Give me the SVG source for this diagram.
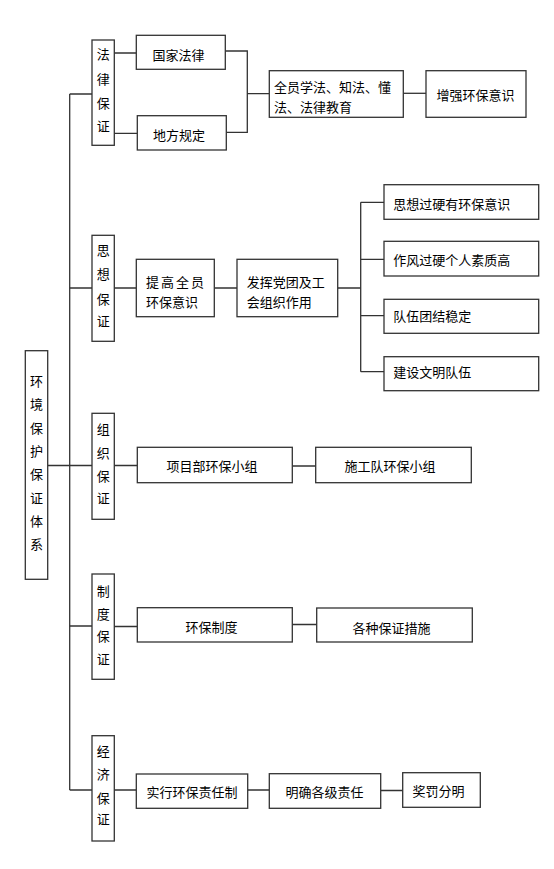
<svg xmlns="http://www.w3.org/2000/svg" width="554" height="869" viewBox="0 0 554 869">
<style>
rect{fill:#fff;stroke:#333;stroke-width:1.3}
.c path{fill:none;stroke:#333;stroke-width:1.3}
text{font-family:"Noto Sans CJK SC","Noto Sans",sans-serif;font-size:13px;fill:#000;dominant-baseline:central}
.m{text-anchor:middle}
</style>
<rect x="0" y="0" width="554" height="869" style="stroke:none"/>
<g class="c" id="connectors">
<path d="M69.7 94V790"/>
<path d="M69.7 94H92M69.7 288H92M47.7 465.5H92M69.7 626H92M69.7 790H92"/>
<path d="M114 53H136.3M114 133.3H137.3"/>
<path d="M225.3 51H247.3V132.3H226.3M247.3 93.7H269.3"/>
<path d="M403.3 93.3H426"/>
<path d="M114 288H136.3M214.3 288H237M337.7 288H360.7"/>
<path d="M360.7 202.3V371.7M360.7 202.3H384M360.7 259.3H384M360.7 315.7H384M360.7 371.7H384"/>
<path d="M114 465.5H137.3M292.3 466H315.7"/>
<path d="M114 626.5H137.3M292.3 624.5H316.7"/>
<path d="M114 790H136.3M247.7 790H269.3M380.7 790.5H402.7"/>
</g>
<g id="root"><rect x="25.3" y="350.7" width="22.4" height="228.6"/>
<text class="m" x="36.5" y="380">环</text><text class="m" x="36.5" y="403">境</text><text class="m" x="36.5" y="427">保</text><text class="m" x="36.5" y="450">护</text><text class="m" x="36.5" y="473">保</text><text class="m" x="36.5" y="497">证</text><text class="m" x="36.5" y="520">体</text><text class="m" x="36.5" y="543">系</text></g>
<g id="falv"><rect x="92" y="40" width="22.3" height="105.3"/>
<text class="m" x="103.2" y="53">法</text><text class="m" x="103.2" y="78">律</text><text class="m" x="103.2" y="102">保</text><text class="m" x="103.2" y="125">证</text></g>
<g id="guojia"><rect x="136.3" y="35.3" width="89" height="34"/><text class="m" x="178.5" y="54">国家法律</text></g>
<g id="difang"><rect x="137.3" y="115.7" width="89" height="34.3"/><text class="m" x="179" y="134.5">地方规定</text></g>
<g id="quanyuan"><rect x="269.3" y="70.7" width="134" height="46.6"/><text x="274" y="86.5">全员学法、知法、懂</text><text x="274" y="106.5">法、法律教育</text></g>
<g id="zengqiang"><rect x="426" y="70.7" width="100" height="46.6"/><text class="m" x="475.5" y="94">增强环保意识</text></g>
<g id="sixiang"><rect x="92" y="235.3" width="22.3" height="106"/>
<text class="m" x="103.2" y="249">思</text><text class="m" x="103.2" y="273">想</text><text class="m" x="103.2" y="298">保</text><text class="m" x="103.2" y="320">证</text></g>
<g id="tigao"><rect x="136.3" y="259.3" width="78" height="57.4"/><text x="146" y="281.7" style="letter-spacing:2px">提高全员</text><text x="146" y="301">环保意识</text></g>
<g id="fahui"><rect x="237" y="259.3" width="100.7" height="57.4"/><text x="246.7" y="281.7">发挥党团及工</text><text x="246.7" y="301.5">会组织作用</text></g>
<g id="s1"><rect x="384" y="184.7" width="154.7" height="34.6"/><text x="393.3" y="203">思想过硬有环保意识</text></g>
<g id="s2"><rect x="384" y="241.3" width="154.7" height="34.7"/><text x="393.3" y="259.3">作风过硬个人素质高</text></g>
<g id="s3"><rect x="384" y="299.3" width="154.7" height="34"/><text x="393.3" y="315.7">队伍团结稳定</text></g>
<g id="s4"><rect x="384" y="356.7" width="154.7" height="34"/><text x="393.3" y="371.7">建设文明队伍</text></g>
<g id="zuzhi"><rect x="92" y="413.3" width="22.3" height="106"/>
<text class="m" x="103.2" y="428">组</text><text class="m" x="103.2" y="452">织</text><text class="m" x="103.2" y="475">保</text><text class="m" x="103.2" y="497">证</text></g>
<g id="xiangmu"><rect x="137.3" y="447.3" width="155" height="35.4"/><text class="m" x="212" y="465">项目部环保小组</text></g>
<g id="shigong"><rect x="315.7" y="447.3" width="155.6" height="35.4"/><text class="m" x="390" y="465">施工队环保小组</text></g>
<g id="zhidu"><rect x="92" y="574" width="22.3" height="105.3"/>
<text class="m" x="103.2" y="590">制</text><text class="m" x="103.2" y="613">度</text><text class="m" x="103.2" y="635">保</text><text class="m" x="103.2" y="658">证</text></g>
<g id="huanbaozhidu"><rect x="137.3" y="607.7" width="155" height="34.3"/><text class="m" x="211.5" y="626.5">环保制度</text></g>
<g id="gezhong"><rect x="316.7" y="608" width="155.6" height="34"/><text class="m" x="391.5" y="627.5">各种保证措施</text></g>
<g id="jingji"><rect x="92" y="735.7" width="22.3" height="105.3"/>
<text class="m" x="103.2" y="750">经</text><text class="m" x="103.2" y="773">济</text><text class="m" x="103.2" y="797">保</text><text class="m" x="103.2" y="818">证</text></g>
<g id="shixing"><rect x="136.3" y="774" width="111.4" height="34.3"/><text class="m" x="192" y="791.5">实行环保责任制</text></g>
<g id="mingque"><rect x="269.3" y="773.7" width="111.4" height="34.6"/><text class="m" x="324.5" y="791.5">明确各级责任</text></g>
<g id="jiangfa"><rect x="402.7" y="772.7" width="77.6" height="34.6"/><text class="m" x="438.5" y="790.5">奖罚分明</text></g>
</svg>
